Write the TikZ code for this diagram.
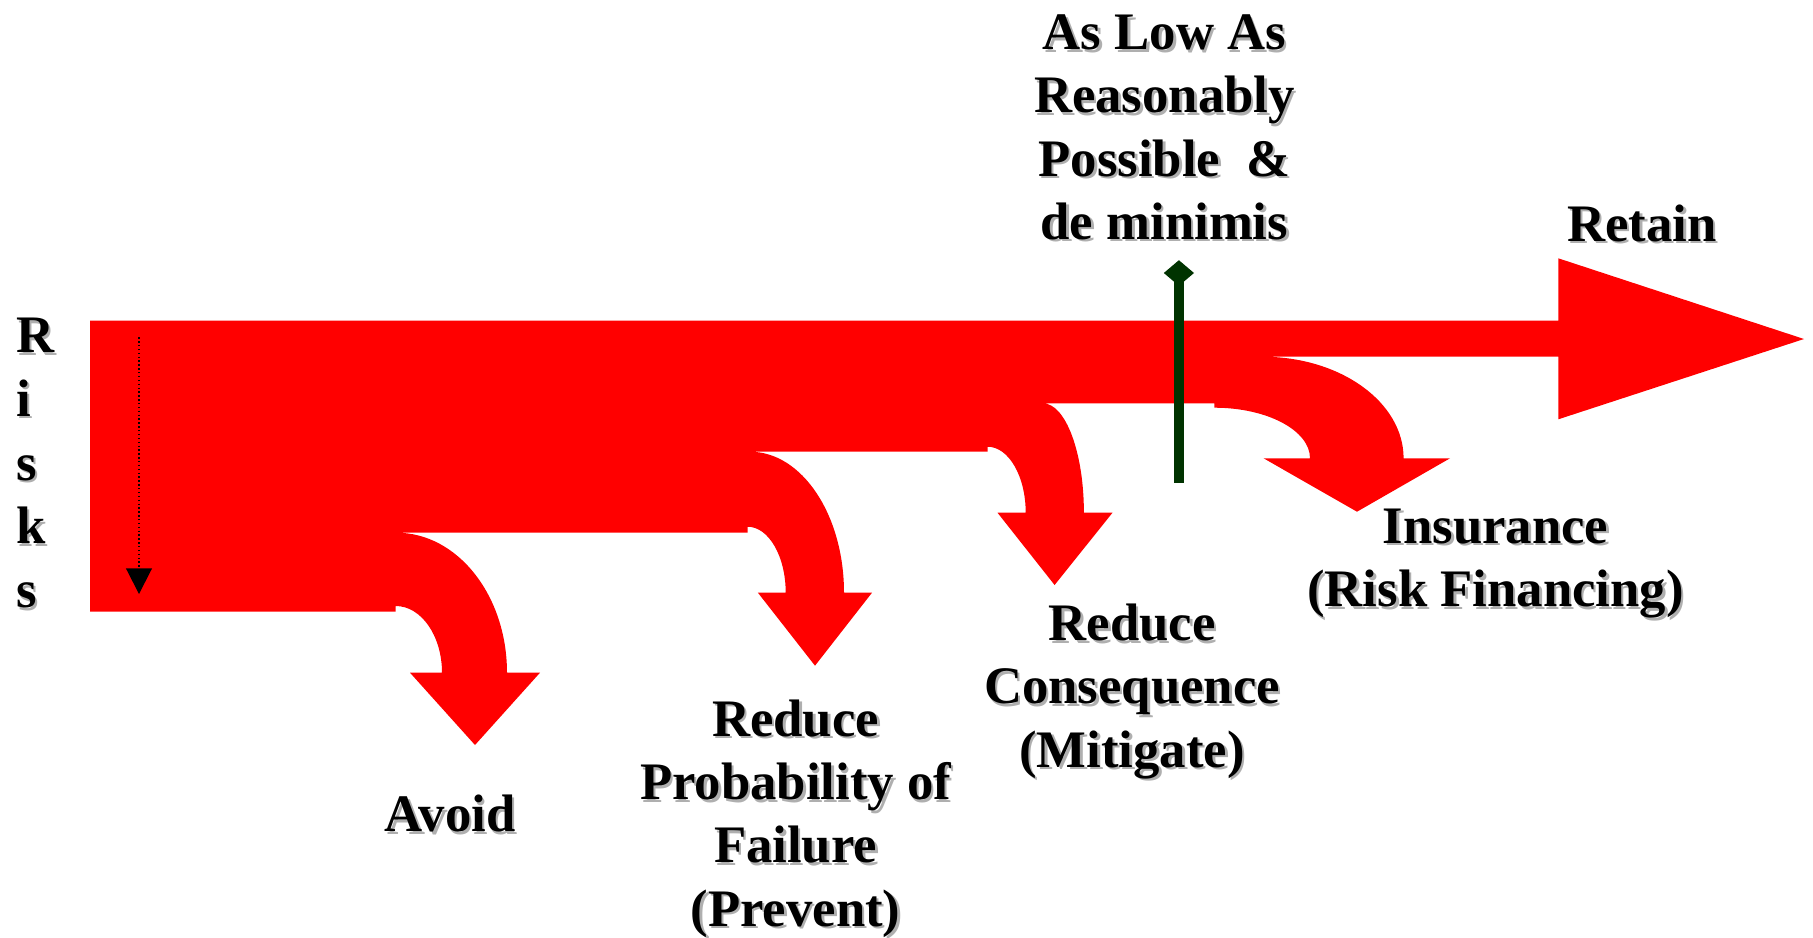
\documentclass[tikz,border=0pt]{standalone}
\usepackage{fontspec}
\setmainfont{Liberation Serif}
\usetikzlibrary{arrows.meta}
\definecolor{riskred}{RGB}{255,0,0}
\definecolor{alarpgreen}{RGB}{0,51,0}
\definecolor{shadowgray}{RGB}{175,175,175}
\newcommand{\shlabel}[4][]{%
  \node[lbl,#1,text=shadowgray] (#2-sh) at ([shift={(2.5,2.5)}]#3) {#4};
  \node[lbl,#1] (#2) at (#3) {#4};}
\begin{document}
\begin{tikzpicture}[x=0.02cm,y=-0.02cm,
  lbl/.style={font=\fontsize{30}{36}\selectfont\bfseries, align=center, inner sep=0pt, anchor=base},
  riskshape/.style={fill=riskred},
  dotarrow/.style={line width=0.8pt, dash pattern=on 0.8pt off 1.4pt, -{Triangle[length=14.6pt,width=14.7pt]}},
  stick/.style={draw=alarpgreen, line width=5.6pt}]
\useasboundingbox (0,0) rectangle (1813,937);

% main staircase of risk arrows
\fill[riskshape] (90,320.7) -- (1558.3,320.7) -- (1558.3,258.3) -- (1804,339) -- (1558.3,419.3) -- (1558.3,356.7) -- (1262.5,356.7)
 .. controls +(77.9,0) and +(0,-56.1) .. (1403.6,458.3) -- (1450,458.3) -- (1357,511.7) -- (1263.6,458.3) -- (1310,458.3)
 .. controls +(0,-27.9) and +(52.9,0) .. (1214.3,407.7) -- (1214.3,403.3) -- (1042.9,403.3)
 .. controls +(22.6,0) and +(0,-60.4) .. (1083.9,512.7) -- (1112.5,512.7) -- (1054.6,585) -- (997.5,512.7) -- (1025.7,512.7)
 .. controls +(0,-36.5) and +(21.1,0) .. (987.5,446.7) -- (987.5,451.7) -- (750,451.7)
 .. controls +(51.9,0) and +(0,-77.9) .. (844,592.7) -- (872,592.7) -- (815,665.7) -- (757.9,592.7) -- (785.7,592.7)
 .. controls +(0,-36.5) and +(21.1,0) .. (747.5,526.7) -- (747.5,532.7) -- (396.4,532.7)
 .. controls +(61.1,0) and +(0,-77.3) .. (507,672.7) -- (540,672.7) -- (475,745) -- (410,672.7) -- (442,672.7)
 .. controls +(0,-36.8) and +(25.6,0) .. (395.7,606) -- (395.7,611.7) -- (90,611.7) -- cycle;

% dotted arrow
\coordinate (dotS) at (139,337.3);
\coordinate (dotE) at (139,594);
\draw[dotarrow] (dotS) -- (dotE);

% ALARP stick
\coordinate (stkB) at (1178.9,482.7);
\coordinate (stkT) at (1178.9,274);
\draw[stick] (stkB) -- (stkT);
\fill[alarpgreen] (1178.9,260.2) -- (1194,273) -- (1178.9,285.8) -- (1163.8,273) -- cycle;

% labels (anchor base = baseline of last line)
\shlabel{alarp}{1164.4,239.4}{As Low As\\Reasonably\\Possible\hspace{0.5em}\&\\de minimis}
\shlabel{retain}{1642,241}{Retain}
\shlabel{avoid}{450,831.7}{Avoid}
\shlabel{prob}{795.6,926}{Reduce\\Probability of\\Failure\\(Prevent)}
\shlabel{mitig}{1132,767.2}{Reduce\\Consequence\\(Mitigate)}
\shlabel{insur}{1495.5,606.7}{Insurance\\(Risk Financing)}
\shlabel[align=left, anchor=base west, font=\fontsize{30}{36.3}\selectfont\bfseries]{risks}{16,607.7}{R\\i\\s\\k\\s}
\end{tikzpicture}
\end{document}
